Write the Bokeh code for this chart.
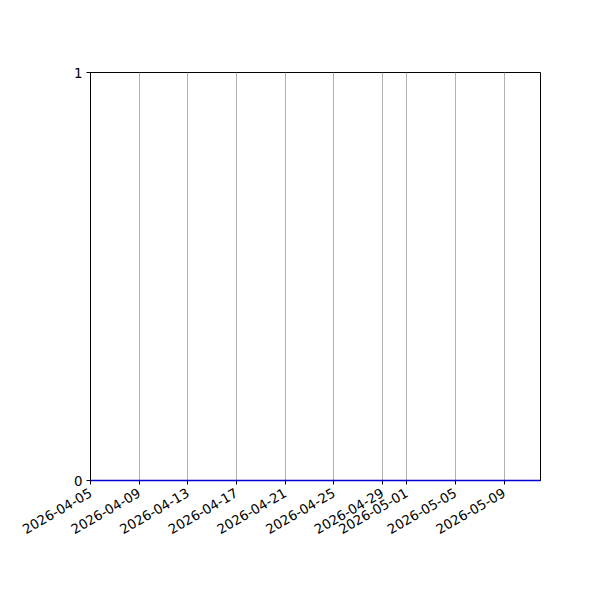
import math
from datetime import datetime
from bokeh.plotting import figure
from bokeh.models import Range1d, FixedTicker, DatetimeTickFormatter, ColumnDataSource
from bokeh.embed import file_html
from bokeh.resources import INLINE

dates = [
    "2026-04-05", "2026-04-06", "2026-04-07", "2026-04-08", "2026-04-09",
    "2026-04-10", "2026-04-11", "2026-04-12", "2026-04-13", "2026-04-14",
    "2026-04-15", "2026-04-16", "2026-04-17", "2026-04-18", "2026-04-19",
    "2026-04-20", "2026-04-21", "2026-04-22", "2026-04-23", "2026-04-24",
    "2026-04-25", "2026-04-26", "2026-04-27", "2026-04-28", "2026-04-29",
    "2026-04-30", "2026-05-01", "2026-05-02", "2026-05-03", "2026-05-04",
    "2026-05-05", "2026-05-06", "2026-05-07", "2026-05-08", "2026-05-09",
    "2026-05-10", "2026-05-11", "2026-05-12",
]
values = [
    0, 0, 0, 0, 0, 0, 0, 0, 0, 0,
    0, 0, 0, 0, 0, 0, 0, 0, 0, 0,
    0, 0, 0, 0, 0, 0, 0, 0, 0, 0,
    0, 0, 0, 0, 0, 0, 0, 0,
]
tick_dates = [
    "2026-04-05", "2026-04-09", "2026-04-13", "2026-04-17", "2026-04-21",
    "2026-04-25", "2026-04-29", "2026-05-01", "2026-05-05", "2026-05-09",
]
y_ticks = [0, 1]


def to_ms(s):
    d = datetime.strptime(s, "%Y-%m-%d")
    return (d - datetime(1970, 1, 1)).total_seconds() * 1000.0


xs = [to_ms(d) for d in dates]
source = ColumnDataSource(dict(x=xs, y=values))

p = figure(
    width=584, height=584,
    output_backend="svg", toolbar_location=None,
    x_axis_type="datetime",
    x_range=Range1d(xs[0], xs[-1]),
    y_range=Range1d(0, 1),
    min_border_left=90, min_border_right=44,
    min_border_top=72, min_border_bottom=104,
)
p.background_fill_color = "white"
p.border_fill_color = "white"
p.outline_line_color = "black"
p.outline_line_width = 1
p.outline_line_alpha = 1

p.line("x", "y", source=source, line_color="#0000d0", line_width=1.5, level="overlay")

p.xaxis.ticker = FixedTicker(ticks=[to_ms(d) for d in tick_dates])
p.xaxis.formatter = DatetimeTickFormatter(
    days="%Y-%m-%d", months="%Y-%m-%d", hours="%Y-%m-%d", years="%Y-%m-%d"
)
p.xaxis.major_label_orientation = math.pi / 6
p.yaxis.ticker = FixedTicker(ticks=y_ticks)

for ax in (p.xaxis[0], p.yaxis[0]):
    ax.axis_line_color = "black"
    ax.axis_line_width = 1
    ax.major_tick_line_color = "black"
    ax.major_tick_out = 4
    ax.major_tick_in = 0
    ax.minor_tick_out = 0
    ax.minor_tick_in = 0
    ax.major_label_text_font = "DejaVu Sans"
    ax.major_label_text_font_size = "13.33px"
    ax.major_label_text_color = "black"
p.xaxis.major_label_standoff = 7
p.yaxis.major_label_standoff = 4

p.xgrid.grid_line_color = "#b0b0b0"
p.xgrid.grid_line_width = 1
p.ygrid.grid_line_color = None

open("out.html", "w").write(file_html(p, INLINE))
